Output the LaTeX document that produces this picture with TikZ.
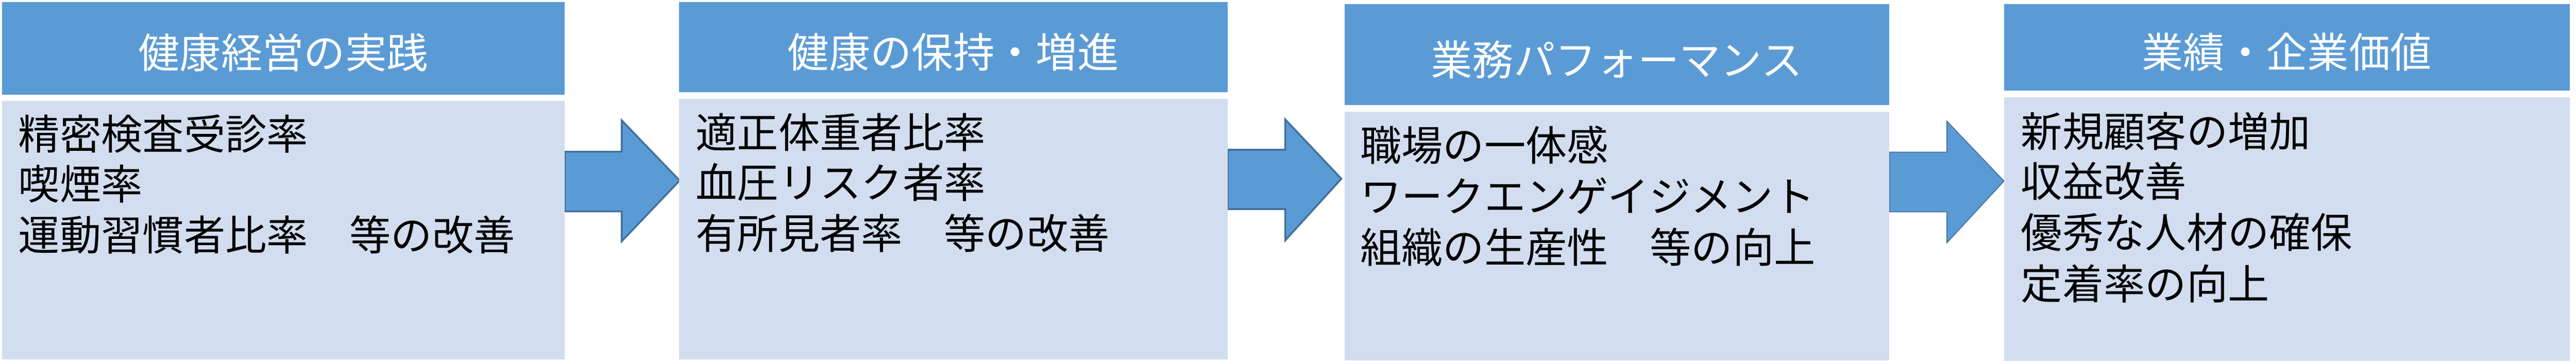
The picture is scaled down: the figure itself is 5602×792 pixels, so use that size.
\documentclass[tikz,border=0pt]{standalone}
\usepackage{fontspec}
\setmainfont{Noto Sans CJK JP}
\definecolor{headblue}{HTML}{5B9BD5}
\definecolor{bodyblue}{HTML}{D2DEEF}
\definecolor{arrowline}{HTML}{41719C}
\begin{document}
\begin{tikzpicture}[x=1pt,y=-1pt,
  header/.style={fill=headblue,draw=none},
  bodybox/.style={fill=bodyblue,draw=none},
  titletext/.style={text=white,anchor=base,inner sep=0pt,font=\fontsize{90}{110}\selectfont},
  linetext/.style={text=black,anchor=base west,inner sep=0pt,font=\fontsize{90}{110}\selectfont},
  blockarrow/.style={fill=headblue,draw=arrowline,line width=4pt,line join=miter}]
\useasboundingbox (0,0) rectangle (5602,792);
\fill[white] (0,0) rectangle (5602,792);
% arrows (behind boxes)
\draw[blockarrow] (1228,330) -- (1352,330) -- (1352,262) -- (1478,393) -- (1352,525) -- (1352,460) -- (1228,460) -- cycle;
\draw[blockarrow] (2670,326) -- (2795,326) -- (2795,260) -- (2917,389) -- (2795,523) -- (2795,455) -- (2670,455) -- cycle;
\draw[blockarrow,line width=2pt] (4109,331) -- (4234,331) -- (4234,264) -- (4358,394) -- (4234,528) -- (4234,461) -- (4109,461) -- cycle;
% box 1
\path[header] (4,4) rectangle (1228,206);
\path[bodybox] (4,220) rectangle (1228,782);
\node[titletext] (h1) at (616,149) {健康経営の実践};
\node[linetext] (a1) at (40,326) {精密検査受診率};
\node[linetext] (a2) at (40,434) {喫煙率};
\node[linetext] (a3) at (40,545) {運動習慣者比率　等の改善};
% box 2
\path[header] (1477,5) rectangle (2670,200);
\path[bodybox] (1477,215) rectangle (2670,782);
\node[titletext] (h2) at (2073,147) {健康の保持・増進};
\node[linetext] (b1) at (1513,322) {適正体重者比率};
\node[linetext] (b2) at (1513,431) {血圧リスク者率};
\node[linetext] (b3) at (1513,542) {有所見者率　等の改善};
% box 3
\path[header] (2924,9) rectangle (4109,228);
\path[bodybox] (2924,243) rectangle (4109,784);
\node[titletext] (h3) at (3516,164) {業務パフォーマンス};
\node[linetext] (c1) at (2958,350) {職場の一体感};
\node[linetext] (c2) at (2958,461) {ワークエンゲイジメント};
\node[linetext] (c3) at (2958,572) {組織の生産性　等の向上};
% box 4
\path[header] (4358,9) rectangle (5589,197);
\path[bodybox] (4358,212) rectangle (5589,785);
\node[titletext] (h4) at (4973,147) {業績・企業価値};
\node[linetext] (d1) at (4395,320) {新規顧客の増加};
\node[linetext] (d2) at (4395,429) {収益改善};
\node[linetext] (d3) at (4395,540) {優秀な人材の確保};
\node[linetext] (d4) at (4395,651) {定着率の向上};
\end{tikzpicture}
\end{document}
